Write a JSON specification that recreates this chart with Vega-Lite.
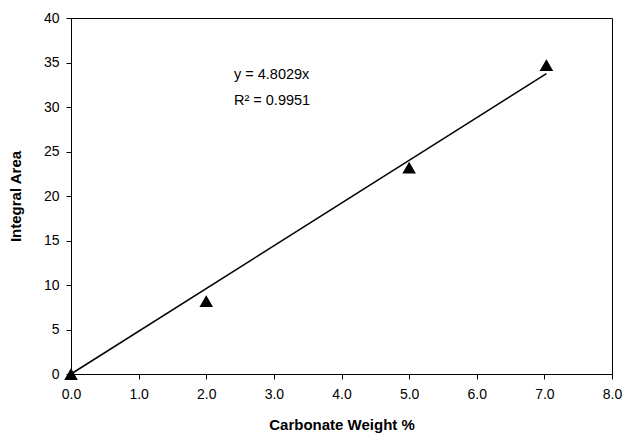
{
  "$schema": "https://vega.github.io/schema/vega-lite/v6.json",
  "width": 541,
  "height": 356,
  "autosize": {"type": "none"},
  "padding": {"left": 71, "top": 18, "right": 11, "bottom": 59},
  "background": "white",
  "config": {
    "view": {"stroke": "#000000", "strokeWidth": 1},
    "font": "Liberation Sans",
    "axis": {
      "grid": false,
      "domainColor": "#000000",
      "tickColor": "#000000",
      "tickSize": 5,
      "labelColor": "#000000",
      "labelFontSize": 14,
      "labelFont": "Liberation Sans",
      "labelFlush": false,
      "labelOverlap": false,
      "titleFont": "Liberation Sans",
      "titleFontSize": 15,
      "titleFontWeight": "bold",
      "titleColor": "#000000"
    }
  },
  "datasets": {
    "points": [
      {"x": 0.0, "y": 0.0},
      {"x": 2.0, "y": 8.2},
      {"x": 5.0, "y": 23.2},
      {"x": 7.03, "y": 34.7}
    ],
    "fit": [
      {"x": 0.0, "y": 0.0},
      {"x": 7.03, "y": 33.76}
    ],
    "labels": [
      {"x": 2.41, "y": 33.2, "text": "y = 4.8029x"},
      {"x": 2.41, "y": 30.2, "text": "R² = 0.9951"}
    ]
  },
  "layer": [
    {
      "data": {"name": "fit"},
      "mark": {"type": "line", "color": "#000000", "strokeWidth": 1.5},
      "encoding": {
        "x": {
          "field": "x", "type": "quantitative",
          "scale": {"domain": [0, 8], "nice": false},
          "axis": {"values": [0, 1, 2, 3, 4, 5, 6, 7, 8], "format": ".1f", "title": "Carbonate Weight %", "titlePadding": 16, "labelPadding": 8}
        },
        "y": {
          "field": "y", "type": "quantitative",
          "scale": {"domain": [0, 40], "nice": false},
          "axis": {"values": [0, 5, 10, 15, 20, 25, 30, 35, 40], "title": "Integral Area", "titlePadding": 20, "labelPadding": 7}
        }
      }
    },
    {
      "data": {"name": "points"},
      "mark": {"type": "point", "shape": "triangle-up", "filled": true, "color": "#000000", "opacity": 1, "size": 185},
      "encoding": {
        "x": {"field": "x", "type": "quantitative"},
        "y": {"field": "y", "type": "quantitative"}
      }
    },
    {
      "data": {"name": "labels"},
      "mark": {"type": "text", "align": "left", "baseline": "alphabetic", "fontSize": 14.5, "color": "#000000", "font": "Liberation Sans"},
      "encoding": {
        "x": {"field": "x", "type": "quantitative"},
        "y": {"field": "y", "type": "quantitative"},
        "text": {"field": "text"}
      }
    }
  ]
}
